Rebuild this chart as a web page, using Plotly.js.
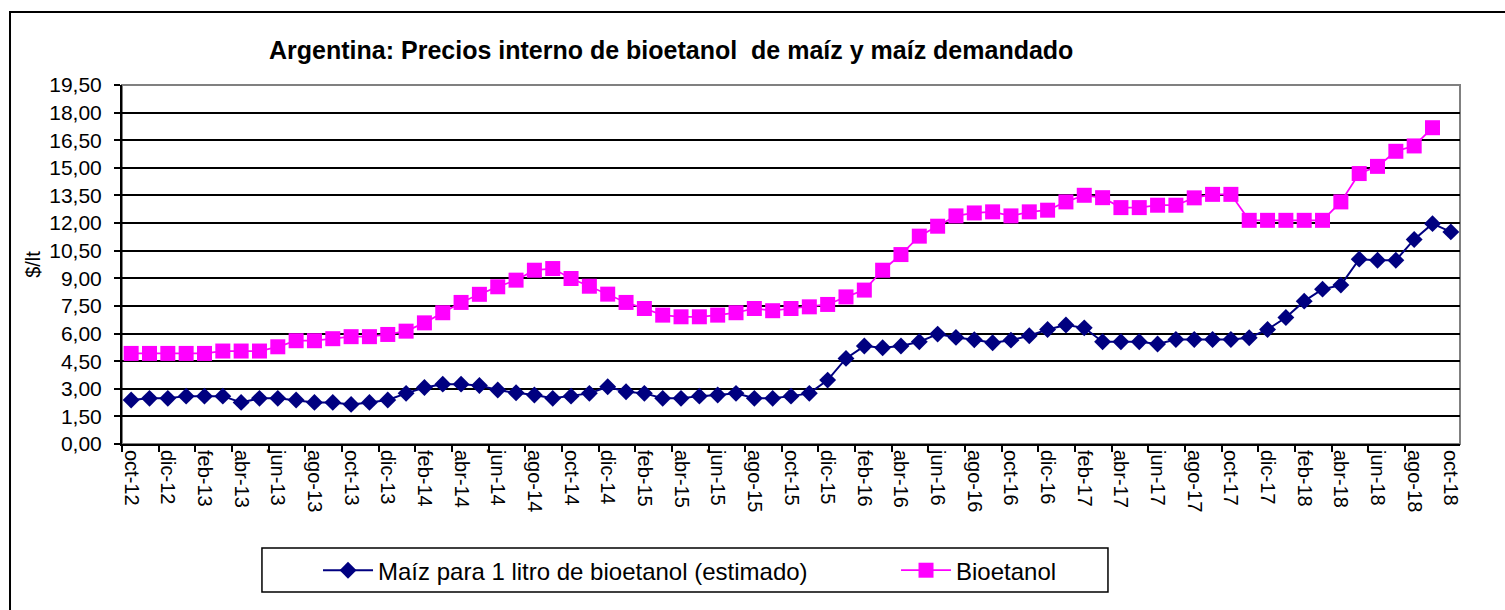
<!DOCTYPE html>
<html>
<head>
<meta charset="utf-8">
<script src="https://cdn.plot.ly/plotly-3.0.1.min.js"></script>
<style>html,body{margin:0;padding:0;background:#fff;}#chart{width:1505px;height:610px;}</style>
</head>
<body>
<div id="chart"></div>
<script>
var months = ["oct-12","nov-12","dic-12","ene-13","feb-13","mar-13","abr-13","may-13","jun-13","jul-13","ago-13","sep-13",
"oct-13","nov-13","dic-13","ene-14","feb-14","mar-14","abr-14","may-14","jun-14","jul-14","ago-14","sep-14",
"oct-14","nov-14","dic-14","ene-15","feb-15","mar-15","abr-15","may-15","jun-15","jul-15","ago-15","sep-15",
"oct-15","nov-15","dic-15","ene-16","feb-16","mar-16","abr-16","may-16","jun-16","jul-16","ago-16","sep-16",
"oct-16","nov-16","dic-16","ene-17","feb-17","mar-17","abr-17","may-17","jun-17","jul-17","ago-17","sep-17",
"oct-17","nov-17","dic-17","ene-18","feb-18","mar-18","abr-18","may-18","jun-18","jul-18","ago-18","sep-18",
"oct-18"];

var maiz = [2.39,2.48,2.48,2.60,2.60,2.60,2.26,2.48,2.48,2.39,2.26,2.26,
2.15,2.26,2.39,2.75,3.07,3.25,3.25,3.18,2.93,2.78,2.66,2.48,
2.60,2.75,3.11,2.84,2.75,2.48,2.48,2.60,2.66,2.75,2.48,2.48,
2.60,2.75,3.47,4.65,5.32,5.23,5.32,5.55,5.97,5.79,5.66,5.50,
5.64,5.88,6.22,6.46,6.31,5.55,5.55,5.55,5.43,5.68,5.68,5.68,
5.68,5.77,6.22,6.87,7.76,8.41,8.63,10.04,9.98,9.98,11.11,11.97,
11.52];

var bioetanol = [4.92,4.92,4.92,4.92,4.92,5.05,5.05,5.05,5.28,5.61,5.61,5.72,
5.83,5.83,5.95,6.13,6.58,7.13,7.69,8.13,8.54,8.90,9.44,9.53,
8.99,8.57,8.14,7.69,7.36,7.00,6.91,6.91,7.00,7.13,7.36,7.24,
7.36,7.45,7.58,7.99,8.36,9.44,10.29,11.29,11.83,12.39,12.55,12.61,
12.39,12.61,12.70,13.15,13.51,13.38,12.84,12.84,12.97,12.97,13.37,13.56,
13.56,12.15,12.15,12.15,12.15,12.15,13.15,14.69,15.08,15.90,16.19,17.18,
null];

var seriesNames = ["Maíz para 1 litro de bioetanol (estimado)", "Bioetanol"];
var titleText = "Argentina: Precios interno de bioetanol  de maíz y maíz demandado";
var yTitle = "$/lt";

var idx = months.map(function(_, i){ return i; });
var tickVals = idx.filter(function(i){ return i % 2 === 0; });
var tickText = tickVals.map(function(i){ return months[i]; });
var boundaryVals = tickVals.slice(0, tickVals.length - 1).map(function(i){ return i - 0.5; });

var traces = [
  {
    x: idx, y: maiz, name: seriesNames[0], type: 'scatter', mode: 'lines+markers',
    line: {color: '#000080', width: 2},
    marker: {symbol: 'diamond', size: 13, color: '#000080'}
  },
  {
    x: idx, y: bioetanol, name: seriesNames[1], type: 'scatter', mode: 'lines+markers',
    line: {color: '#FF00FF', width: 1.75},
    marker: {symbol: 'square', size: 15, color: '#FF00FF'}
  }
];

var font = "'Liberation Sans', Arial, sans-serif";

var layout = {
  width: 1505, height: 610,
  margin: {l: 122, r: 45, t: 85, b: 166},
  paper_bgcolor: '#fff', plot_bgcolor: '#fff',
  separators: ',.',
  font: {family: font, color: '#000', size: 20},
  title: {
    text: '<b>' + titleText + '</b>',
    font: {family: font, size: 25, color: '#000'},
    x: 0.446, xanchor: 'center', xref: 'container',
    y: 0.918, yanchor: 'middle', yref: 'container'
  },
  showlegend: true,
  legend: {
    orientation: 'h', x: 0.1465, xanchor: 'left', y: -0.29, yanchor: 'top',
    bgcolor: 'rgba(0,0,0,0)', borderwidth: 0,
    font: {family: font, size: 24, color: '#000'},
    entrywidth: 513, entrywidthmode: 'pixels',
    itemwidth: 50
  },
  xaxis: {
    range: [-0.5, 72.5], automargin: false,
    tickmode: 'array', tickvals: tickVals, ticktext: tickText,
    tickangle: 90, ticks: '',
    tickfont: {family: font, size: 20, color: '#000'},
    showgrid: false, zeroline: false,
    showline: true, linecolor: '#000', linewidth: 2,
    minor: {tickmode: 'array', tickvals: boundaryVals, ticks: 'outside', ticklen: 6, tickwidth: 2, tickcolor: '#000', showgrid: false},
    fixedrange: true
  },
  yaxis: {
    range: [0, 19.5], tick0: 0, dtick: 1.5, tickformat: '.2f', automargin: false,
    ticks: 'outside', ticklen: 6, tickwidth: 2, tickcolor: '#000',
    ticklabelstandoff: 8,
    tickfont: {family: font, size: 21, color: '#000'},
    showgrid: true, gridcolor: '#000', gridwidth: 2,
    zeroline: false, showline: true, linecolor: '#000', linewidth: 2,
    title: {text: yTitle, font: {family: font, size: 20, color: '#000'}, standoff: 3},
    fixedrange: true
  },
  shapes: [
    {type: 'rect', xref: 'paper', yref: 'paper', x0: 0, x1: 1, y0: 0, y1: 1,
     line: {color: '#808080', width: 2}, fillcolor: 'rgba(0,0,0,0)', layer: 'between'},
    {type: 'rect', xref: 'paper', yref: 'paper', x0: 0.1046, x1: 0.7369, y0: -0.2897, y1: -0.4123,
     line: {color: '#000', width: 1.5}, fillcolor: 'rgba(0,0,0,0)', layer: 'above'},
    {type: 'rect', xref: 'paper', yref: 'paper', x0: -0.0837, x1: 1.04, y0: -0.48, y1: 1.2033,
     line: {color: '#000', width: 2}, fillcolor: 'rgba(0,0,0,0)', layer: 'above'}
  ]
};

Plotly.newPlot('chart', traces, layout, {displayModeBar: false, staticPlot: true});
</script>
</body>
</html>
